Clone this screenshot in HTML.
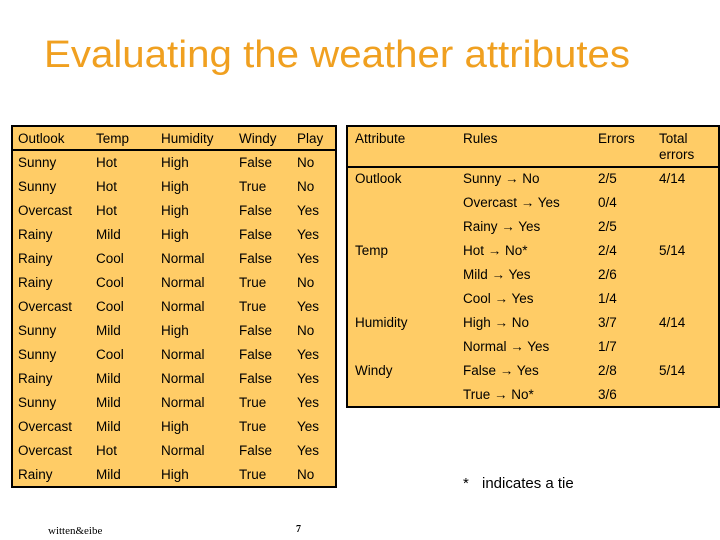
<!DOCTYPE html>
<html><head><meta charset="utf-8"><style>
html,body{margin:0;padding:0;background:#fff;width:720px;height:540px;overflow:hidden}
svg text{font-family:"Liberation Sans",sans-serif}
</style></head><body>
<svg width="720" height="540" viewBox="0 0 720 540">
<text x="44" y="67" font-size="38" fill="#F0A020" textLength="586" lengthAdjust="spacingAndGlyphs">Evaluating the weather attributes</text>
<rect x="12" y="126" width="324" height="361" fill="#FFCC66" stroke="#000" stroke-width="2"/>
<line x1="12" y1="150" x2="336" y2="150" stroke="#000" stroke-width="2"/>
<rect x="347" y="126" width="372" height="281" fill="#FFCC66" stroke="#000" stroke-width="2"/>
<line x1="347" y1="167" x2="719" y2="167" stroke="#000" stroke-width="2"/>
<g id="left" font-size="13.5" fill="#000"></g>
<g id="right" font-size="13.5" fill="#000"></g>
<text x="463" y="488" font-size="15">*</text>
<text x="482" y="488" font-size="15">indicates a tie</text>
<text x="48" y="534" font-size="11" style="font-family:'Liberation Serif',serif">witten&amp;eibe</text>
<text x="296" y="532" font-size="10" font-weight="bold" style="font-family:'Liberation Serif',serif">7</text>
</svg>
<script>
const leftCols=[18,96,161,239,297];
const leftRows=[
["Outlook","Temp","Humidity","Windy","Play"],
["Sunny","Hot","High","False","No"],
["Sunny","Hot","High","True","No"],
["Overcast","Hot","High","False","Yes"],
["Rainy","Mild","High","False","Yes"],
["Rainy","Cool","Normal","False","Yes"],
["Rainy","Cool","Normal","True","No"],
["Overcast","Cool","Normal","True","Yes"],
["Sunny","Mild","High","False","No"],
["Sunny","Cool","Normal","False","Yes"],
["Rainy","Mild","Normal","False","Yes"],
["Sunny","Mild","Normal","True","Yes"],
["Overcast","Mild","High","True","Yes"],
["Overcast","Hot","Normal","False","Yes"],
["Rainy","Mild","High","True","No"]];
const rightCols=[355,463,598,659];
const rightRows=[
["Outlook","Sunny \u2192 No","2/5","4/14"],
["","Overcast \u2192 Yes","0/4",""],
["","Rainy \u2192 Yes","2/5",""],
["Temp","Hot \u2192 No*","2/4","5/14"],
["","Mild \u2192  Yes","2/6",""],
["","Cool \u2192  Yes","1/4",""],
["Humidity","High \u2192  No","3/7","4/14"],
["","Normal \u2192 Yes","1/7",""],
["Windy","False \u2192 Yes","2/8","5/14"],
["","True \u2192 No*","3/6",""]];
const NS="http://www.w3.org/2000/svg";
function txt(g,x,y,s){const t=document.createElementNS(NS,"text");t.setAttribute("x",x);t.setAttribute("y",y);t.textContent=s;g.appendChild(t);return t;}
const L=document.getElementById("left");
leftRows.forEach((r,i)=>r.forEach((c,j)=>{
 const t=txt(L,leftCols[j],143+i*24,c);
 
 
}));
const R=document.getElementById("right");
[["Attribute",355],["Rules",463],["Errors",598],["Total",659]].forEach(h=>{
 const t=txt(R,h[1],143,h[0]);
 
 
});
const t2=txt(R,659,159,"errors");


rightRows.forEach((r,i)=>r.forEach((c,j)=>{ if(!c)return;
 const t=txt(R,rightCols[j],183+i*24,c);
 
 
}));
</script>
</body></html>
